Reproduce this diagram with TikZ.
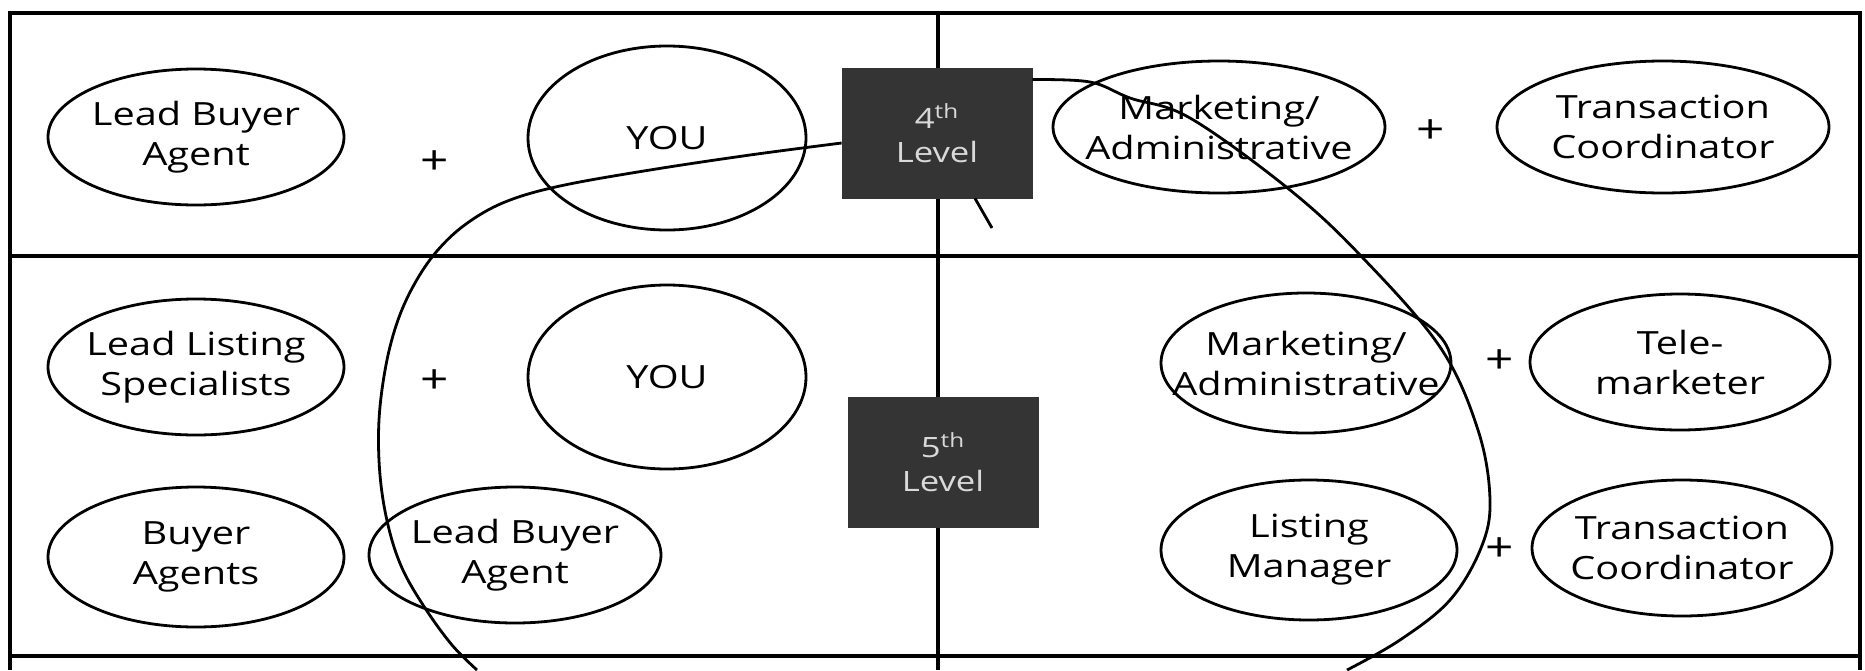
\documentclass[tikz,border=0pt]{standalone}
\usepackage{fontspec}
\setmainfont[FakeStretch=1.24]{Open Sans}
\usetikzlibrary{shapes.geometric}
\definecolor{boxgray}{RGB}{52,52,52}
\newcommand\ovalnode[5]{%
  \node[oval,minimum width=#3,minimum height=#4] (#1) at (#2) {};
  \node[txt] (#1-t) at (#1.center) {#5};}
\begin{document}
\begin{tikzpicture}[x=0.5pt,y=-0.5pt,
  oval/.style={ellipse,draw,line width=1.4pt,inner sep=0pt},
  txt/.style={inner sep=0pt,align=center,font=\fontsize{16}{20}\selectfont},
  lvl/.style={fill=boxgray,draw=boxgray,inner sep=0pt,text=white!85!black,align=center,
    font=\fontsize{14}{17}\selectfont,minimum width=95pt,minimum height=65pt},
  plus/.style={inner sep=0pt,font=\fontsize{20}{20}\selectfont},
  gridline/.style={line width=1.6pt},
  loopline/.style={line width=1.4pt}]
\useasboundingbox (0,0) rectangle (1865,670);
% frame
\draw[gridline] (10,670) -- (10,13) -- (1860,13) -- (1860,670);
\draw[gridline] (10,256) -- (1860,256);
\draw[gridline] (10,656) -- (1860,656);
\draw[gridline] (938,13) -- (938,670);
% top row
\ovalnode{lba1}{196,137}{148pt}{68pt}{Lead Buyer\\Agent}
\node[plus] (p1) at (435,163) {+};
\ovalnode{you1}{667,138}{139pt}{92pt}{YOU}
\node[lvl] (l4) at (937,133) {4\textsuperscript{th}\\Level};
\ovalnode{ma1}{1219,127}{166pt}{66pt}{Marketing/\\Administrative}
\node[plus] (p2) at (1431,132) {+};
\ovalnode{tc1}{1663,127}{166pt}{66pt}{Transaction\\Coordinator}
% bottom
\ovalnode{lls}{196,367}{148pt}{68pt}{Lead Listing\\Specialists}
\node[plus] (p3) at (435,382) {+};
\ovalnode{you2}{667,377}{139pt}{92pt}{YOU}
\node[lvl] (l5) at (943,462) {5\textsuperscript{th}\\Level};
\ovalnode{ba}{196,557}{148pt}{70pt}{Buyer\\Agents}
\ovalnode{lba2}{515,555}{146pt}{68pt}{Lead Buyer\\Agent}
\ovalnode{ma2}{1306,363}{145pt}{70pt}{Marketing/\\Administrative}
\node[plus] (p4) at (1500,362) {+};
\ovalnode{tm}{1680,362}{150pt}{68pt}{Tele-\\marketer}
\ovalnode{lm}{1309,550}{148pt}{70pt}{Listing\\Manager}
\node[plus] (p5) at (1500,550) {+};
\ovalnode{tc2}{1682,548}{150pt}{68pt}{Transaction\\Coordinator}
% loops
\coordinate (ls) at ([yshift=-5pt]l4.west);
\coordinate (le) at (477,670);
\draw[loopline] plot[smooth,tension=0.6] coordinates {(ls) (750,155) (650,170) (560,186) (505,202) (466,224) (437,251) (415,283) (398,320) (386,365) (379,420) (380,475) (388,525) (402,568) (425,608) (452,645) (le)};
\coordinate (rs) at ([yshift=-6pt]l4.north east);
\coordinate (re) at (1347,670);
\draw[loopline] plot[smooth,tension=0.6] coordinates {(rs) (1090,82) (1130,98) (1190,118) (1290,190) (1362,257) (1440,347) (1478,430) (1490,500) (1481,548) (1450,600) (1400,640) (re)};
\coordinate (ts) at ([xshift=19pt]l4.south);
\coordinate (te) at (992,228);
\draw[loopline] (ts) -- (te);
\end{tikzpicture}
\end{document}
